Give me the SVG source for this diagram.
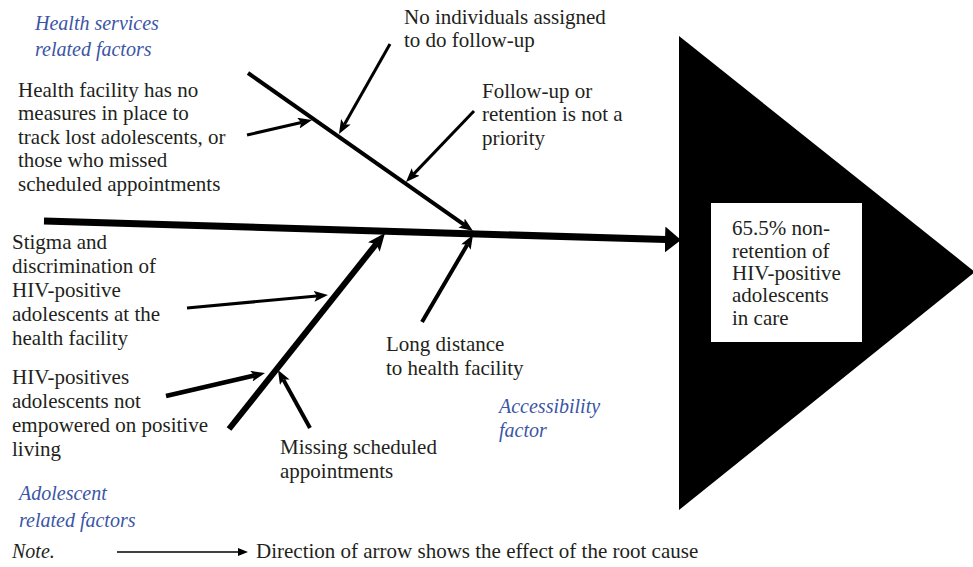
<svg xmlns="http://www.w3.org/2000/svg" width="973" height="567" viewBox="0 0 973 567">
<style>
.t{font-family:'Liberation Serif','DejaVu Serif','Noto Serif',Tinos,serif;font-size:21px;fill:#231f20}
.c{font-family:'Liberation Serif','DejaVu Serif','Noto Serif',Tinos,serif;font-size:20px;font-style:italic;fill:#3a55a5}
.n{font-family:'Liberation Serif','DejaVu Serif','Noto Serif',Tinos,serif;font-size:20px;font-style:italic;fill:#231f20}
.ln{stroke:#000;fill:none}
</style>
<defs>
<marker id="ah" markerUnits="userSpaceOnUse" viewBox="0 0 14 11" refX="3" refY="5.5" markerWidth="14" markerHeight="11" orient="auto"><path d="M0,0 L14,5.5 L0,11 L3,5.5 z" fill="#000"/></marker>
<marker id="ahb" markerUnits="userSpaceOnUse" viewBox="0 0 18 15" refX="4" refY="7.5" markerWidth="18" markerHeight="15" orient="auto"><path d="M0,0 L18,7.5 L0,15 L4,7.5 z" fill="#000"/></marker>
<marker id="ahm" markerUnits="userSpaceOnUse" viewBox="0 0 16 26" refX="1" refY="13" markerWidth="16" markerHeight="26" orient="auto"><path d="M0,0 L16,13 L0,26 z" fill="#000"/></marker>
<marker id="ahs" markerUnits="userSpaceOnUse" viewBox="0 0 10 8" refX="1" refY="4" markerWidth="10" markerHeight="8" orient="auto"><path d="M0,0 L10,4 L0,8 z" fill="#000"/></marker>
</defs>
<rect width="973" height="567" fill="#fff"/>

<g id="head">
<polygon points="679,36 975,272 679,510" fill="#000"/>
<rect x="711" y="203" width="151" height="139" fill="#fff"/>
<text class="t" x="732" y="235">65.5% non-</text>
<text class="t" x="732" y="258">retention of</text>
<text class="t" x="732" y="280">HIV-positive</text>
<text class="t" x="732" y="302">adolescents</text>
<text class="t" x="732" y="325">in care</text>
</g>

<g id="connectors">
<line class="ln" x1="44" y1="221" x2="666" y2="239.6" stroke-width="7" marker-end="url(#ahm)"/>
<line class="ln" x1="248" y1="73" x2="464" y2="224.7" stroke-width="4" marker-end="url(#ah)"/>
<line class="ln" x1="229" y1="429" x2="376.3" y2="243.9" stroke-width="6" marker-end="url(#ahb)"/>
<line class="ln" x1="247" y1="135" x2="301.3" y2="122.5" stroke-width="3" marker-end="url(#ah)"/>
<line class="ln" x1="390" y1="44" x2="344.4" y2="124.4" stroke-width="3" marker-end="url(#ah)"/>
<line class="ln" x1="474" y1="111" x2="413.6" y2="174.1" stroke-width="3" marker-end="url(#ah)"/>
<line class="ln" x1="187" y1="308" x2="317" y2="296" stroke-width="3" marker-end="url(#ah)"/>
<line class="ln" x1="166" y1="396" x2="254.3" y2="375.5" stroke-width="4.5" marker-end="url(#ah)"/>
<line class="ln" x1="310" y1="428" x2="283.3" y2="379.6" stroke-width="4" marker-end="url(#ah)"/>
<line class="ln" x1="422" y1="322" x2="467.4" y2="244.5" stroke-width="4" marker-end="url(#ah)"/>
<line class="ln" x1="117" y1="552" x2="239" y2="552" stroke-width="1.5" marker-end="url(#ahs)"/>
</g>

<g id="cat-health">
<text class="c" x="35" y="30">Health services</text>
<text class="c" x="35" y="56">related factors</text>
</g>
<g id="cause-measures">
<text class="t" x="18" y="97">Health facility has no</text>
<text class="t" x="18" y="120">measures in place to</text>
<text class="t" x="18" y="144">track lost adolescents, or</text>
<text class="t" x="18" y="167">those who missed</text>
<text class="t" x="18" y="191">scheduled appointments</text>
</g>
<g id="cause-individuals">
<text class="t" x="404" y="24">No individuals assigned</text>
<text class="t" x="404" y="47">to do follow-up</text>
</g>
<g id="cause-priority">
<text class="t" x="482" y="98">Follow-up or</text>
<text class="t" x="482" y="121">retention is not a</text>
<text class="t" x="482" y="145">priority</text>
</g>
<g id="cause-stigma">
<text class="t" x="12" y="249">Stigma and</text>
<text class="t" x="12" y="273">discrimination of</text>
<text class="t" x="12" y="297">HIV-positive</text>
<text class="t" x="12" y="321">adolescents at the</text>
<text class="t" x="12" y="345">health facility</text>
</g>
<g id="cause-empowered">
<text class="t" x="12" y="384">HIV-positives</text>
<text class="t" x="12" y="408">adolescents not</text>
<text class="t" x="12" y="432">empowered on positive</text>
<text class="t" x="12" y="456">living</text>
</g>
<g id="cause-distance">
<text class="t" x="386" y="351">Long distance</text>
<text class="t" x="386" y="375">to health facility</text>
</g>
<g id="cause-missing">
<text class="t" x="280" y="454">Missing scheduled</text>
<text class="t" x="280" y="478">appointments</text>
</g>
<g id="cat-access">
<text class="c" x="499" y="413">Accessibility</text>
<text class="c" x="499" y="437">factor</text>
</g>
<g id="cat-adolescent">
<text class="c" x="19" y="500">Adolescent</text>
<text class="c" x="19" y="527">related factors</text>
</g>
<g id="note">
<text class="n" x="12" y="558">Note.</text>
<text class="t" x="256" y="558">Direction of arrow shows the effect of the root cause</text>
</g>
</svg>
